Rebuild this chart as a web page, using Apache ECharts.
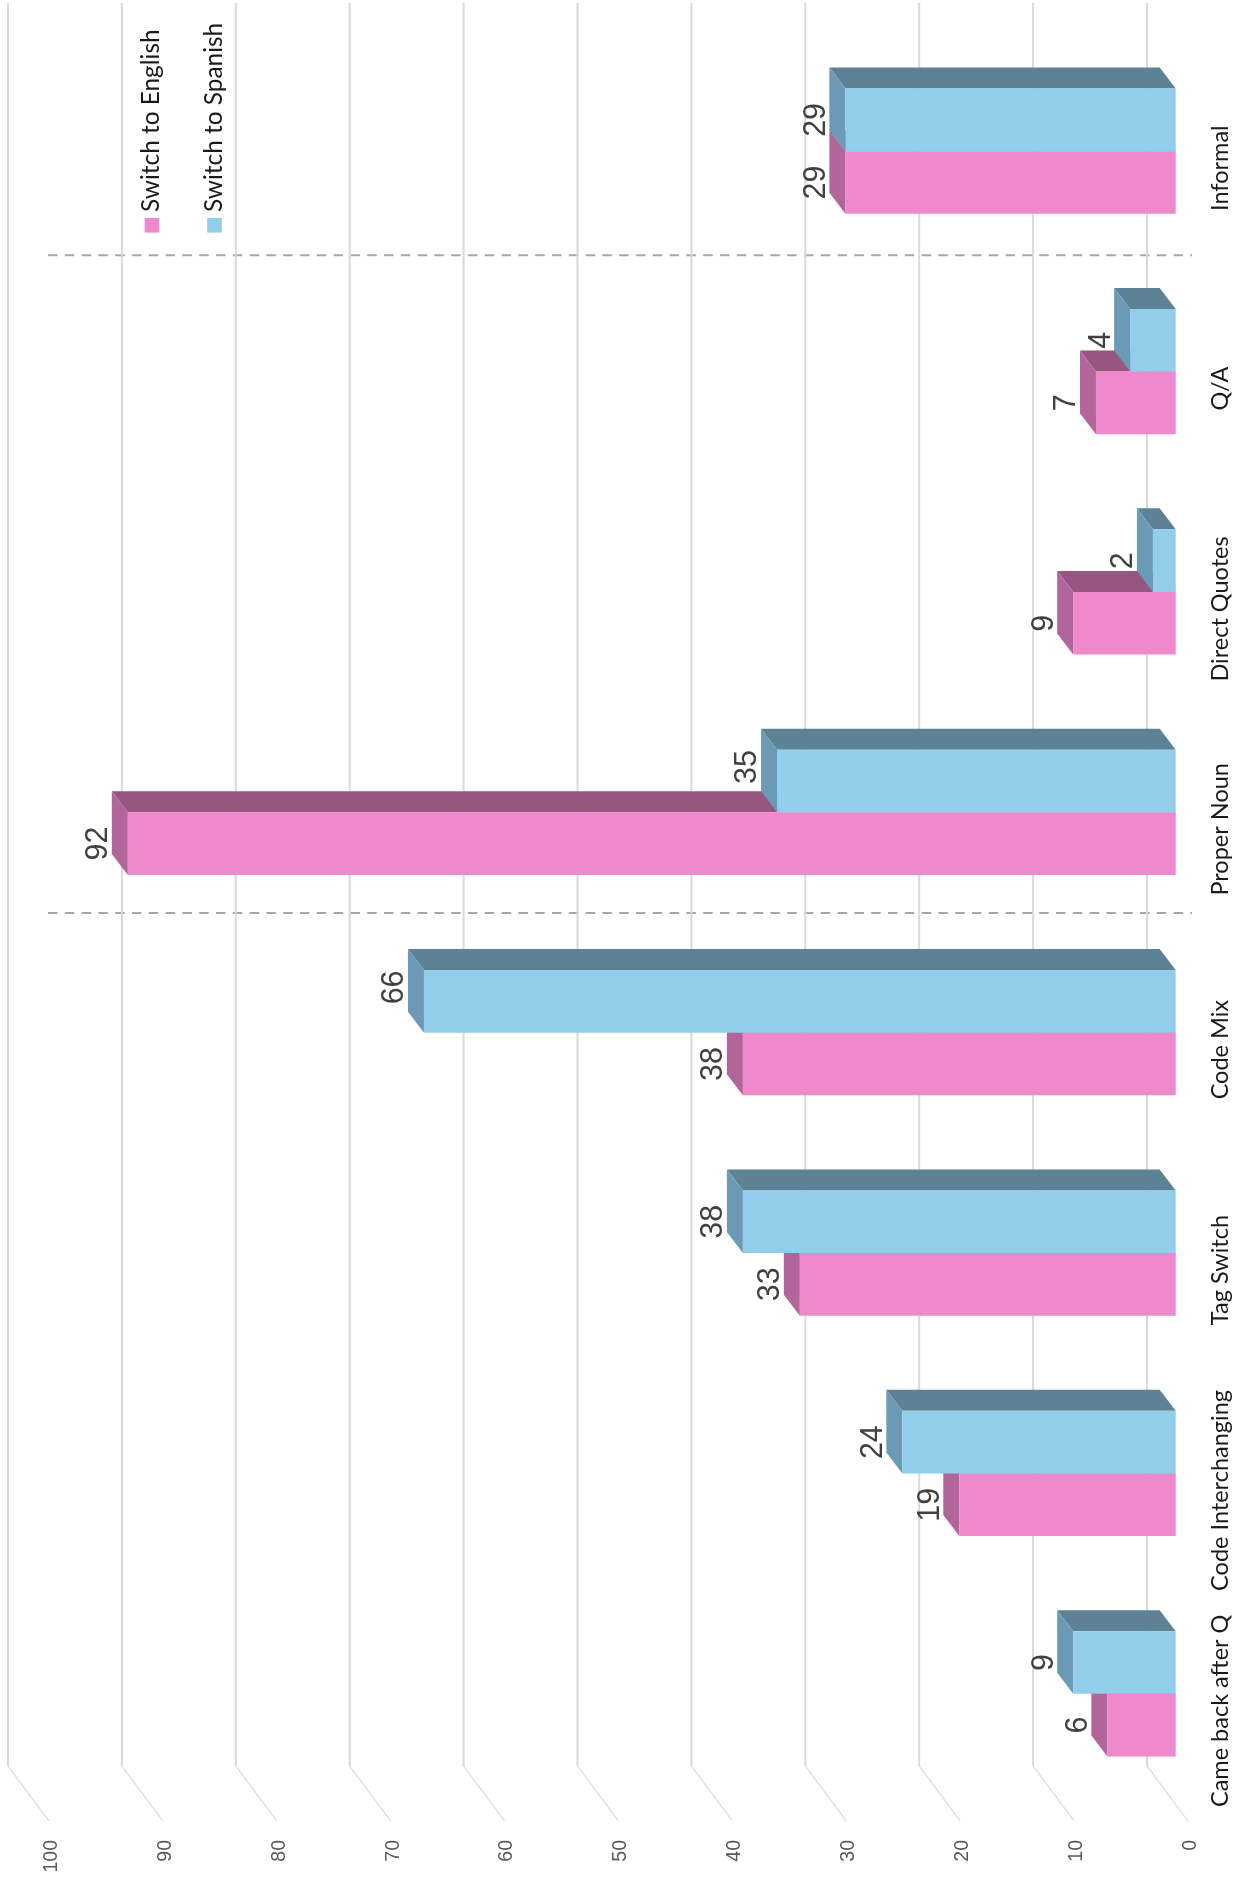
<!DOCTYPE html>
<html>
<head>
<meta charset="utf-8">
<title>Switch direction by category</title>
<script src="https://cdn.jsdelivr.net/npm/echarts@6/dist/echarts.min.js"></script>
<style>
  html, body { margin: 0; padding: 0; background: #fff; }
  #vis { width: 1249px; height: 1878px; }
</style>
</head>
<body>
<div id="vis"></div>
<script>
const categories = ['Informal', 'Q/A', 'Direct Quotes', 'Proper Noun', 'Code Mix', 'Tag Switch', 'Code Interchanging', 'Came back after Q']
const englishValues = [29, 7, 9, 92, 38, 33, 19, 6]
const spanishValues = [29, 4, 2, 35, 66, 38, 24, 9]
const valueTicks = [0, 10, 20, 30, 40, 50, 60, 70, 80, 90, 100]
const seriesNames = ['Switch to English', 'Switch to Spanish']
// these two labels sit higher on their bars in the reference
const raisedSpanishLabels = ['Proper Noun', 'Code Mix']

// the reference is a 3D column chart turned on its side, so depth is a fixed pixel shift
const floorDepth = { x: 41, y: 55 }
const barDepth = { x: 16, y: 21 }
const barShift = { x: -12.3, y: -17 }
const barShare = 0.284

const pink = { front: '#EE89CC', top: '#96567F', side: '#B2659A' }
const blue = { front: '#92CEEC', top: '#5E8295', side: '#6A9AB5' }

const chart = echarts.init(document.getElementById('vis'))

function renderGridLine (params, api) {
  const rect = params.coordSys
  const x = api.coord([api.value(0), 0])[0]
  const bottom = rect.y + rect.height
  const style = { stroke: '#D9D9D9', fill: null }
  return {
    type: 'group',
    children: [
      {
        type: 'line',
        shape: { x1: x, y1: bottom, x2: x - floorDepth.x, y2: bottom - floorDepth.y },
        style: { ...style, lineWidth: 1.2 }
      },
      {
        type: 'line',
        shape: { x1: x - floorDepth.x, y1: bottom - floorDepth.y, x2: x - floorDepth.x, y2: rect.y - floorDepth.y },
        style: { ...style, lineWidth: 2 }
      }
    ]
  }
}

function barRenderer (colors, above, raised) {
  return function (params, api) {
    const value = api.value(0)
    const idx = api.value(1)
    const end = api.coord([value, idx])
    const base = api.coord([0, idx])
    const h = api.size([0, 1])[1] * barShare
    const x0 = base[0] + barShift.x
    const x1 = end[0] + barShift.x
    const mid = end[1] + barShift.y
    const yT = above ? mid - h : mid
    const yB = above ? mid : mid + h
    const dx = barDepth.x
    const dy = barDepth.y
    const lift = raised.includes(categories[idx]) ? 14 : 0
    return {
      type: 'group',
      children: [
        {
          type: 'polygon',
          shape: { points: [[x1, yT], [x0, yT], [x0 - dx, yT - dy], [x1 - dx, yT - dy]] },
          style: { fill: colors.top }
        },
        {
          type: 'polygon',
          shape: { points: [[x1, yT], [x1, yB], [x1 - dx, yB - dy], [x1 - dx, yT - dy]] },
          style: { fill: colors.side }
        },
        {
          type: 'rect',
          shape: { x: x1, y: yT, width: x0 - x1, height: yB - yT },
          style: { fill: colors.front }
        },
        {
          type: 'text',
          x: x1 - 29,
          y: (yT + yB) / 2 - lift,
          rotation: Math.PI / 2,
          style: {
            text: String(value),
            fill: '#404040',
            font: '30.5px "Liberation Sans"',
            align: 'center',
            verticalAlign: 'middle'
          }
        }
      ]
    }
  }
}

function legendEntry (name, color, x, y) {
  return [
    { type: 'rect', shape: { x: x - 6.8, y: y + 6, width: 14.6, height: 14.6 }, style: { fill: color } },
    {
      type: 'text',
      x: x,
      y: y,
      rotation: Math.PI / 2,
      style: {
        text: name,
        fill: '#1a1a1a',
        font: '24.4px Lato',
        align: 'left',
        verticalAlign: 'middle'
      }
    }
  ]
}

function divider (y) {
  return {
    type: 'line',
    shape: { x1: 48, y1: y, x2: 1192, y2: y },
    style: { stroke: '#A6A6A6', lineWidth: 2, lineDash: [9.5, 7.3] }
  }
}

chart.setOption({
  animation: false,
  backgroundColor: '#fff',
  grid: { left: 49, right: 61, top: 58, bottom: 57, containLabel: false },
  xAxis: {
    type: 'value',
    inverse: true,
    min: 0,
    max: 100,
    interval: 10,
    position: 'bottom',
    axisLine: { show: false },
    axisTick: { show: false },
    splitLine: { show: false },
    axisLabel: {
      rotate: 90,
      margin: 19,
      verticalAlign: 'top',
      lineHeight: 5,
      color: '#595959',
      fontFamily: 'Liberation Sans',
      fontSize: 19.5
    }
  },
  yAxis: {
    type: 'category',
    inverse: true,
    position: 'right',
    data: categories,
    axisLine: { show: false },
    axisTick: { show: false },
    splitLine: { show: false },
    axisLabel: {
      interval: 0,
      rotate: 90,
      margin: 20,
      color: '#1a1a1a',
      fontFamily: 'Lato',
      fontSize: 23.5
    }
  },
  series: [
    {
      type: 'custom',
      silent: true,
      clip: false,
      z: 1,
      renderItem: renderGridLine,
      encode: { x: 0 },
      data: valueTicks.map(v => [v])
    },
    {
      name: seriesNames[0],
      type: 'custom',
      clip: false,
      z: 2,
      renderItem: barRenderer(pink, false, []),
      encode: { x: 0, y: 1 },
      data: englishValues.map((v, i) => [v, i])
    },
    {
      name: seriesNames[1],
      type: 'custom',
      clip: false,
      z: 3,
      renderItem: barRenderer(blue, true, raisedSpanishLabels),
      encode: { x: 0, y: 1 },
      data: spanishValues.map((v, i) => [v, i])
    }
  ],
  graphic: {
    elements: [
      divider(255.3),
      divider(913),
      ...legendEntry(seriesNames[0], pink.front, 151.5, 212),
      ...legendEntry(seriesNames[1], blue.front, 214, 212)
    ]
  }
})

window.addEventListener('resize', () => chart.resize())
</script>
</body>
</html>
